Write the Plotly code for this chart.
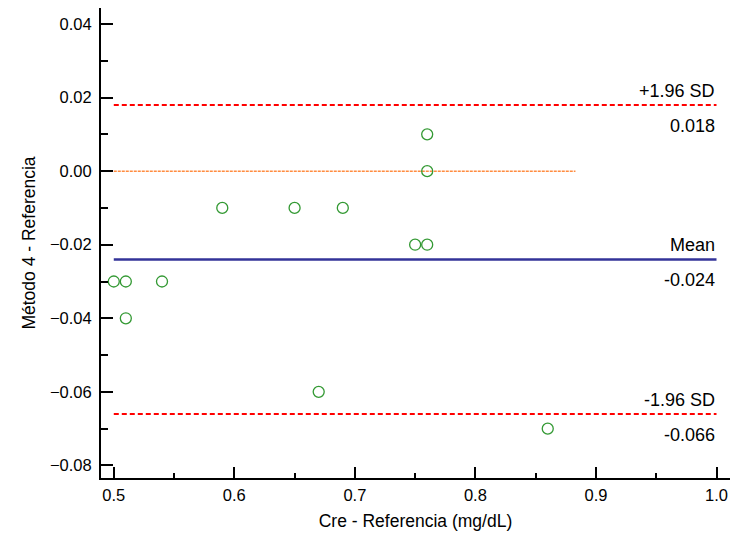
import plotly.graph_objects as go

x_ref = [0.50, 0.51, 0.51, 0.54, 0.59, 0.65, 0.67, 0.69, 0.75, 0.76, 0.76, 0.76, 0.86]
diff = [-0.03, -0.03, -0.04, -0.03, -0.01, -0.01, -0.06, -0.01, -0.02, -0.02, 0.01, 0.00, -0.07]
mean_val = -0.024
upper_val = 0.018
lower_val = -0.066
line_x = [0.5, 1.0]
zero_x = [0.5, 0.883]

font = "Liberation Sans, Arial, sans-serif"
fig = go.Figure()
fig.add_trace(go.Scatter(x=zero_x, y=[0, 0], mode="lines",
                         line=dict(color="#ff8c40", width=1.5, dash="3px,1px"), hoverinfo="skip"))
fig.add_trace(go.Scatter(x=line_x, y=[upper_val]*2, mode="lines",
                         line=dict(color="#ff0000", width=2, dash="5px,3px"), hoverinfo="skip"))
fig.add_trace(go.Scatter(x=line_x, y=[lower_val]*2, mode="lines",
                         line=dict(color="#ff0000", width=2, dash="5px,3px"), hoverinfo="skip"))
fig.add_trace(go.Scatter(x=line_x, y=[mean_val]*2, mode="lines",
                         line=dict(color="#333399", width=2.5), hoverinfo="skip"))
fig.add_trace(go.Scatter(x=x_ref, y=diff, mode="markers",
                         marker=dict(symbol="circle-open", size=11, color="#339933",
                                     line=dict(width=1.3, color="#339933"))))

ann = [("+1.96 SD", upper_val, "bottom"), ("0.018", upper_val, "top"),
       ("Mean", mean_val, "bottom"), ("-0.024", mean_val, "top"),
       ("-1.96 SD", lower_val, "bottom"), ("-0.066", lower_val, "top")]
for t, y, anc in ann:
    fig.add_annotation(x=1.0, y=y, text=t, showarrow=False, xanchor="right",
                       yanchor=anc, yshift=2 if anc == "bottom" else -9,
                       font=dict(family=font, size=18, color="black"))

fig.update_layout(
    width=745, height=542, showlegend=False,
    plot_bgcolor="white", paper_bgcolor="white",
    margin=dict(l=101, r=15, t=8, b=64),
    font=dict(family=font, size=16.5, color="black"),
    xaxis=dict(range=[0.4894, 1.0112], tick0=0.5, dtick=0.1, tickformat=".1f", automargin=False,
               showline=True, linecolor="black", linewidth=2, ticks="inside",
               ticklen=11, tickwidth=1.5, tickcolor="black", showgrid=False, zeroline=False,
               ticklabelstandoff=1,
               minor=dict(dtick=0.05, tick0=0.5, ticklen=5, tickcolor="black", ticks="inside", showgrid=False),
               title=dict(text="Cre - Referencia (mg/dL)", font=dict(size=17.5), standoff=12)),
    yaxis=dict(range=[-0.08342, 0.04435], tick0=0, dtick=0.02, tickformat=".2f", automargin=False,
               showline=True, linecolor="black", linewidth=2, ticks="inside",
               ticklen=12, tickwidth=1.5, tickcolor="black", showgrid=False, zeroline=False,
               ticklabelstandoff=4,
               minor=dict(dtick=0.01, ticklen=7, tickcolor="black", ticks="inside", showgrid=False),
               title=dict(text="Método 4 - Referencia", font=dict(size=17.5), standoff=10)),
)
fig.write_html("out.html", config={"displayModeBar": False},
               post_script="document.body.style.margin='0';document.body.style.overflow='hidden';")
